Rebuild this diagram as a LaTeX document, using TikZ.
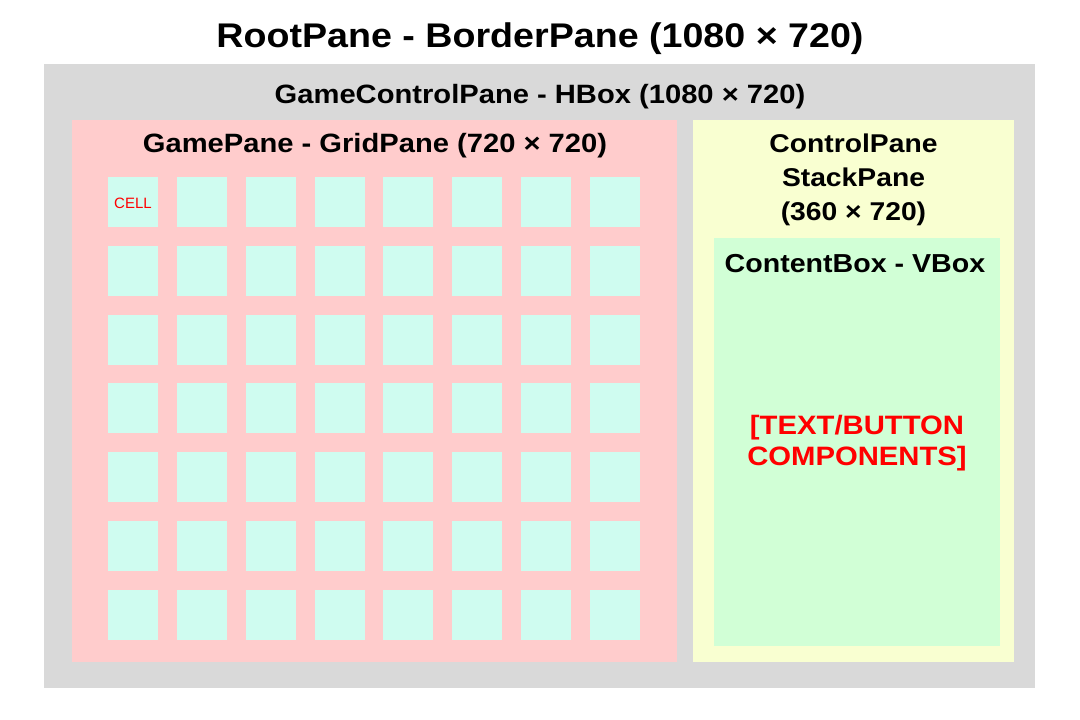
\documentclass[tikz,border=0pt]{standalone}
\usepackage{fontspec}
\setmainfont{Liberation Sans}[BoldFeatures={FakeStretch=1.1}]
\definecolor{rootgray}{HTML}{D9D9D9}
\definecolor{gamepink}{HTML}{FFCCCC}
\definecolor{ctrlyellow}{HTML}{F9FFD1}
\definecolor{contentgreen}{HTML}{D1FFD6}
\definecolor{cellcyan}{HTML}{CFFCF0}
\definecolor{labelred}{HTML}{FF0000}
\begin{document}
\begin{tikzpicture}[x=1pt,y=-1pt,
  lbl/.style={anchor=base,inner sep=0pt,font=\bfseries\fontsize{26.5}{32}\selectfont},
  ctl/.style={lbl,font=\bfseries\fontsize{25.7}{32}\selectfont},
  redlbl/.style={lbl,text=labelred,font=\bfseries\fontsize{26.6}{32}\selectfont}]
\useasboundingbox (0,0) rectangle (1080,720);
\fill[white] (0,0) rectangle (1080,720);
% panes
\fill[rootgray] (44,64) rectangle (1035,688);
\fill[gamepink] (72,120) rectangle (677,662);
\fill[ctrlyellow] (693,120) rectangle (1014,662);
\fill[contentgreen] (714,238) rectangle (1000,646);
% cells
\foreach \i in {0,...,7}{
  \foreach \j in {0,...,6}{
    \fill[cellcyan] ({108+\i*68.86},{177+\j*68.83}) rectangle ++(50,50);
  }
}
% labels
\node[lbl,font=\bfseries\fontsize{34.2}{40}\selectfont] (title) at (540,47) {RootPane - BorderPane (1080 × 720)};
\node[lbl] (hbox) at (540,103) {GameControlPane - HBox (1080 × 720)};
\node[lbl] (grid) at (375,152) {GamePane - GridPane (720 × 720)};
\node[ctl] (stack1) at (853.5,152) {ControlPane};
\node[ctl] (stack2) at (853.5,186) {StackPane};
\node[ctl] (stack3) at (853.5,220) {(360 × 720)};
\node[lbl,font=\bfseries\fontsize{26}{32}\selectfont] (vbox) at (855,272) {ContentBox - VBox};
\node[redlbl] (comp1) at (857,434) {[TEXT/BUTTON};
\node[redlbl] (comp2) at (857,465) {COMPONENTS]};
\node[anchor=base,inner sep=0pt,text=labelred,font=\fontsize{15}{18}\selectfont] (cell) at (133,208) {CELL};
\end{tikzpicture}
\end{document}
